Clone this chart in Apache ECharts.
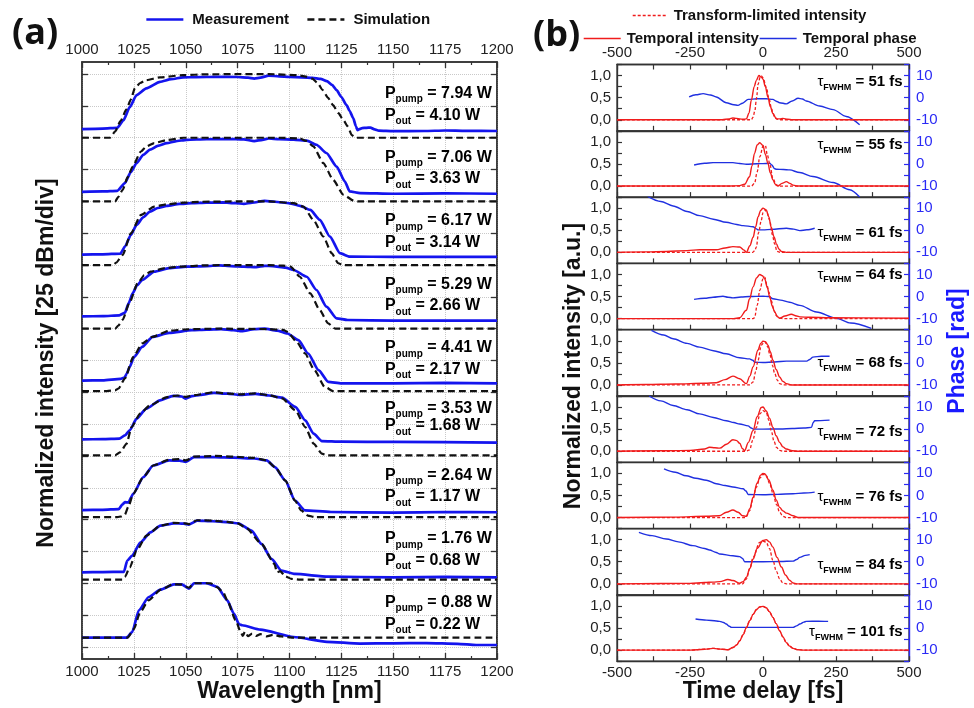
<!DOCTYPE html>
<html><head><meta charset="utf-8">
<script src="https://cdn.jsdelivr.net/npm/echarts@6.0.0/dist/echarts.min.js"></script>
<style>html,body{margin:0;padding:0;background:#fff}#c{width:974px;height:708px}</style>
</head><body><div id="c"></div>
<script>
// ---------------- Panel (a) data: spectra in dB relative to each trace's reference (25 dB per div) ----------------
const pumpPowers = ['7.94','7.06','6.17','5.29','4.41','3.53','2.64','1.76','0.88'];
const outPowers  = ['4.10','3.63','3.14','2.66','2.17','1.68','1.17','0.68','0.22'];
const traceOffsetDiv = [18,16,14,12,10,8,6,4,2];
const dbPerDiv = 25;
const divTicks = [0,1,2,3,4,5,6,7,8,9,10,11,12,13,14,15,16,17,18];

const meas794 = [[1000,-43.2],[1010,-42.8],[1017,-42.2],[1020,-36.2],[1023,-26],[1026.3,-16.5],[1031,-11.2],[1037.6,-6.1],[1043,-4],[1048.7,-2.6],[1055,-2.4],[1065,-2.2],[1075,-2.3],[1080,-2.8],[1083,-3.5],[1086,-2.8],[1090,-1.2],[1095,-1.8],[1100,-2.3],[1106,-2.5],[1111,-2.9],[1115,-3.8],[1118,-5.5],[1120.5,-8.5],[1122.7,-12.6],[1125,-18],[1127.5,-24.4],[1129,-29],[1130.7,-34.6],[1132,-41],[1132.8,-44],[1134,-43],[1135,-42.4],[1137,-42.2],[1139,-42],[1141,-43.5],[1143,-44.4],[1150,-44.8],[1165,-44.7],[1175,-44.3],[1185,-44.6],[1200,-44.7]];
const sim794 = [[1000,-50],[1013.5,-50],[1016,-45],[1018.5,-37],[1021.5,-27.5],[1023.5,-20],[1025.5,-11],[1028,-7],[1031,-4.7],[1037.6,-2.6],[1048.7,-0.8],[1060,-0.2],[1075,0],[1090,0],[1103.6,-0.8],[1108,-2],[1111,-3.6],[1113.5,-7],[1116,-12.6],[1118.5,-18.5],[1121,-24.4],[1123.5,-30.5],[1126,-36.2],[1128,-41],[1130,-48],[1132,-50],[1200,-50]];
const meas706 = [[1000,-42.5],[1010,-42.2],[1017,-41.7],[1020.7,-35.6],[1023.5,-27],[1026.3,-19.9],[1029.5,-13.5],[1032.8,-9.4],[1036.5,-6.4],[1040.9,-4.2],[1045,-2.8],[1050.5,-1.6],[1060,-1.2],[1070,-1.0],[1078,-1.3],[1083,-2.6],[1087,-1.6],[1090,-0.6],[1095,-1.2],[1102,-1.5],[1108.3,-2.3],[1113,-5.5],[1117.8,-12],[1122.7,-22.6],[1126.7,-34.4],[1129,-42.2],[1134,-43.5],[1150,-44],[1175,-43.7],[1200,-44]];
const sim706 = [[1000,-50],[1016,-50],[1017.5,-46.5],[1019.6,-40.9],[1022,-31],[1024.4,-22.6],[1028.4,-10.8],[1031,-6.8],[1034.8,-4.2],[1041,-1.8],[1049,0],[1075,0],[1095,0],[1105,-0.5],[1108,-2.5],[1111.5,-6.8],[1116.3,-19.9],[1121,-33],[1126,-44.8],[1131,-49.5],[1133,-50],[1200,-50]];
const meas617 = [[1000,-41.8],[1010,-41.6],[1018.5,-41],[1020.7,-35.5],[1023.5,-26.5],[1026.3,-18.5],[1029.5,-12.5],[1032.8,-8],[1036.5,-5.2],[1040.9,-3.5],[1047,-2],[1053,-1.4],[1060,-1],[1068,-0.8],[1074,-1.4],[1078,-1.9],[1082,-1.0],[1088,0.4],[1093,-0.3],[1100,-1.5],[1105,-3.5],[1110,-6.7],[1114.6,-14.5],[1119.5,-27.7],[1124.3,-40.7],[1129,-43.4],[1150,-43.6],[1175,-43.6],[1200,-43.6]];
const sim617 = [[1000,-50],[1015,-50],[1016.5,-48],[1019.6,-42],[1023.6,-25],[1028.4,-10.6],[1034.8,-4.1],[1041,-2.2],[1049,-1],[1058,-0.3],[1075,0],[1090,0],[1102,-1.4],[1106.7,-4],[1111.5,-14.5],[1116.3,-27.7],[1120.3,-40.7],[1123.5,-48.6],[1126,-50],[1200,-50]];
const meas529 = [[1000,-40.3],[1010,-40.2],[1018,-39.5],[1020.7,-37.5],[1022.5,-30],[1024.4,-22.3],[1026.5,-16],[1029,-11.8],[1034.8,-5.2],[1042,-2.5],[1050.5,-1.3],[1060,-0.8],[1066,-0.3],[1072,-0.8],[1078,-1.2],[1084,-1.6],[1088,-0.6],[1092,-0.8],[1098,-2],[1102,-3.9],[1108.3,-9.2],[1113,-19.6],[1117.8,-32.7],[1122.7,-41.9],[1128,-43.2],[1150,-43.6],[1200,-43.7]];
const sim529 = [[1000,-50],[1016,-50],[1017.5,-47.5],[1019.6,-43],[1022.8,-30],[1026.8,-14.4],[1030,-8],[1033,-5.2],[1040,-2.5],[1047,-1.3],[1060,-0.2],[1075,0],[1090,0],[1097,-0.5],[1100.5,-1.3],[1105,-9.2],[1110,-22.3],[1114.6,-35.4],[1118.6,-45.8],[1122,-50],[1200,-50]];
const meas441 = [[1000,-40.8],[1010,-40.6],[1018.5,-39.5],[1020.5,-38.5],[1021.5,-35.5],[1023,-30],[1025.1,-22.2],[1029,-14.3],[1034,-6.4],[1042,-3.3],[1053,-1.2],[1060,-0.8],[1067,-0.4],[1073,-1.2],[1077,-2],[1083,-0.3],[1088,0],[1094,-1.5],[1099,-3.8],[1104.3,-9],[1109,-19.5],[1114,-32.6],[1118.7,-41.8],[1125,-43],[1150,-43],[1175,-42.6],[1200,-43]];
const sim441 = [[1000,-49],[1012,-49],[1016,-48.4],[1017.6,-47],[1020.7,-39],[1024.7,-22.2],[1029,-11.6],[1034,-6.4],[1042,-1.6],[1050,-0.5],[1065,0],[1090,-0.3],[1097,-1],[1099,-2.5],[1103.5,-10.4],[1107.5,-19.5],[1112,-32.6],[1117,-45.7],[1121,-49],[1200,-49]];
const meas353 = [[1000,-37],[1010,-36.8],[1018,-36.4],[1020.7,-33.8],[1023,-29.9],[1026.3,-20.7],[1031,-12.8],[1037.6,-6.3],[1044,-2.8],[1048,-3.3],[1050,-5],[1053,-3],[1057,-2],[1063.6,-0.5],[1070,-1],[1076,-2],[1083.5,-1.2],[1090,-2.5],[1096.4,-4.2],[1102.8,-11.5],[1107.6,-22],[1111.6,-32.5],[1115.6,-38.3],[1125,-38.8],[1150,-39],[1200,-39.5]];
const sim353 = [[1000,-49.5],[1016,-49.5],[1018.5,-47],[1021.5,-40.3],[1023.9,-27.3],[1028,-16.8],[1032.8,-10.2],[1041,-3.7],[1046,-2.5],[1050,-3.5],[1054,-2.2],[1063.6,0],[1070,-0.8],[1076,-1.6],[1083.5,-0.8],[1090,-2.2],[1096.4,-4.8],[1102.8,-14],[1107.6,-27.3],[1111.6,-40.3],[1115.6,-48.2],[1118,-49.5],[1200,-49.5]];
const meas264 = [[1000,-42.5],[1010,-42.3],[1017.7,-41.7],[1019.5,-38],[1020.7,-36.3],[1022.3,-36.5],[1024.7,-29.7],[1029.5,-16.7],[1034.3,-7.5],[1042,-3.5],[1047,-3.7],[1050,-4.7],[1054,-0.9],[1064,-0.9],[1073,-1.3],[1083,-2],[1089,-3.5],[1093,-8.8],[1098,-19.3],[1102.6,-35],[1107.5,-42.8],[1120,-44],[1150,-44.5],[1175,-44],[1200,-44.2]];
const sim264 = [[1000,-48],[1017,-48],[1019,-47.5],[1020.7,-46],[1022.3,-40],[1024.7,-29.7],[1029.5,-16.7],[1034.3,-7.5],[1042,-3],[1047,-2.5],[1050,-3.5],[1054,-0.5],[1064,0],[1073,-0.5],[1083,-1.5],[1089,-3.5],[1093,-8.8],[1098,-19.3],[1102.6,-35],[1105.6,-42.8],[1108.8,-46.8],[1112,-48],[1200,-48]];
const meas176 = [[1000,-41.4],[1010,-41.2],[1020.2,-41],[1021.8,-32.2],[1024.2,-28.3],[1028.2,-17.8],[1033,-10],[1037.8,-4.7],[1044.3,-2.9],[1049,-3.2],[1051.5,-3.9],[1055.5,-0.8],[1063,-1.3],[1070,-2],[1075.3,-2.9],[1081.7,-8.6],[1086.5,-19.1],[1091.3,-30.9],[1096.1,-40],[1102.6,-42.7],[1118.6,-44.8],[1150,-45.4],[1175,-45],[1200,-45.4]];
const sim176 = [[1000,-47.2],[1019.5,-47.2],[1020.7,-45],[1023,-37.5],[1026.3,-24.4],[1031,-12.6],[1037.8,-4.7],[1044.3,-2.5],[1049,-2.8],[1051.5,-3.5],[1055.5,-0.5],[1063,-0.8],[1070,-1.8],[1075,-3],[1079,-6.3],[1086.5,-19],[1092.7,-34.8],[1094,-41.4],[1095.5,-40.5],[1098,-44.5],[1101,-46.6],[1105,-47.2],[1200,-47.2]];
const meas088 = [[1000,-42.7],[1021.5,-42.7],[1024.2,-38.3],[1027.4,-21.2],[1032.2,-10.8],[1037.8,-5],[1044.3,-0.8],[1048,-0.8],[1051.5,-4.2],[1054,0],[1060,0],[1065.2,-2.9],[1070,-13.4],[1073.2,-23.8],[1075.7,-32.2],[1077.2,-33],[1086,-36.4],[1102,-42.2],[1118,-46],[1134,-47.4],[1150,-47.2],[1166,-47],[1181,-47.6],[1190,-48.5],[1200,-48.5]];
const sim088 = [[1000,-42.7],[1022,-42.7],[1025,-36],[1028,-23],[1032,-13.4],[1038,-5],[1044,-0.8],[1048,-1],[1051.5,-3.5],[1054,0],[1062,0],[1065,-3],[1068,-7],[1070,-13.4],[1074,-29],[1076.5,-38.3],[1077.5,-41.4],[1078.5,-38],[1080,-41.6],[1082,-39.5],[1084,-41.4],[1086,-40],[1089,-41.7],[1092,-40.5],[1096,-41.8],[1101,-42.7],[1200,-42.7]];
const measTraces = [meas794,meas706,meas617,meas529,meas441,meas353,meas264,meas176,meas088];
const simTraces  = [sim794,sim706,sim617,sim529,sim441,sim353,sim264,sim176,sim088];

// ---------------- Panel (b) data: [time fs, value] ----------------
const tauFwhm = ['51','55','61','64','68','72','76','84','101'];
const int51 = [[-500,0],[-140,0],[-115,0.02],[-103,0.04],[-90,0.03],[-70,0.01],[-57,0.02],[-48,0.15],[-40,0.44],[-30,0.75],[-23,0.89],[-14,1.0],[-5,0.96],[0,0.92],[8,0.75],[17,0.51],[25,0.3],[34,0.14],[46,0.02],[57,0.02],[68,0.03],[85,0.01],[100,0],[500,0]];
const tl51 = [[-500,0],[-40,0],[-34,0.06],[-28,0.2],[-22,0.5],[-17,0.8],[-10,0.96],[-6,0.99],[0,0.95],[11,0.74],[20,0.5],[28,0.29],[34,0.14],[40,0.06],[50,0.01],[60,0],[500,0]];
const ph51 = [[-253,0.3],[-230,1.3],[-205,1.8],[-180,1.2],[-160,0.3],[-126,-2.3],[-100,-3.2],[-86,-3.5],[-70,-2.5],[-51,-0.8],[-20,-0.5],[11,-0.5],[34,-0.8],[45,-1.6],[57,-2.3],[80,-2.8],[100,-1.5],[120,-0.3],[135,-0.6],[148,-1.5],[194,-3.8],[240,-5.4],[285,-8.5],[331,-12.3]];
const int55 = [[-500,0],[-120,0],[-80,0.01],[-63,0.04],[-46,0.21],[-38,0.45],[-29,0.74],[-20,0.93],[-11,0.98],[0,0.92],[8,0.72],[17,0.51],[25,0.3],[34,0.14],[42,0.04],[51,0],[65,0.06],[80,0.1],[92,0.06],[103,0.02],[120,0],[500,0]];
const tl55 = [[-500,0],[-40,0],[-29,0.06],[-20,0.32],[-11,0.66],[0,0.9],[8,0.92],[15,0.7],[23,0.51],[34,0.17],[46,0.02],[60,0],[500,0]];
const ph55 = [[-236,-0.45],[-200,0.3],[-171,0.6],[-140,0.6],[-103,0.6],[-80,0.2],[-57,-0.15],[-20,0.1],[0,0.15],[23,0.3],[30,-0.5],[40,-2.2],[46,-2.4],[70,-2.5],[91,-2.7],[126,-3.9],[171,-5.7],[240,-8.4],[297,-11.7],[331,-15]];
const int61 = [[-500,0],[-400,0.01],[-331,0.02],[-260,0.04],[-217,0.06],[-160,0.06],[-130,0.1],[-103,0.13],[-80,0.12],[-65,0.05],[-57,0],[-45,0.15],[-34,0.34],[-25,0.58],[-17,0.8],[-8,0.95],[0,1.0],[11,0.96],[20,0.8],[28,0.57],[38,0.35],[46,0.19],[55,0.07],[63,0.02],[80,0],[500,0]];
const tl61 = [[-500,0],[-35,0],[-28,0.04],[-23,0.12],[-15,0.45],[-6,0.72],[0,0.9],[6,0.96],[15,0.88],[23,0.72],[32,0.4],[40,0.19],[48,0.02],[60,0],[500,0]];
const ph61 = [[-395,15.3],[-350,13],[-308,11],[-260,8.5],[-217,6.6],[-170,5],[-126,3.6],[-90,2.6],[-68,2.1],[-34,1.6],[-22,0.6],[-17,0.15],[0,0.15],[30,0.4],[80,0.9],[105,0.5],[126,-0.15],[150,0.2],[177,0.9]];
const int64 = [[-500,0],[-100,0],[-80,0.02],[-57,0.19],[-46,0.45],[-34,0.72],[-22,0.92],[-11,1.0],[-2,0.97],[6,0.9],[15,0.7],[23,0.49],[32,0.28],[40,0.15],[50,0.04],[57,0.01],[75,0.06],[97,0.1],[115,0.06],[126,0.04],[160,0.03],[230,0.02],[500,0.01]];
const tl64 = [[-500,0],[-35,0],[-29,0.02],[-20,0.3],[-11,0.64],[0,0.9],[6,0.94],[14,0.75],[20,0.6],[28,0.41],[38,0.18],[46,0.07],[57,0.01],[70,0],[500,0]];
const ph64 = [[-236,-1.3],[-200,-0.8],[-171,-0.3],[-137,0.15],[-120,-0.3],[-103,-0.6],[-75,-0.2],[-46,0],[0,0.15],[20,0],[34,-1],[60,-1.6],[91,-2.6],[126,-4],[183,-7],[251,-9.8],[300,-12],[371,-14.4]];
const int68 = [[-500,0],[-400,0.01],[-300,0.02],[-200,0.04],[-160,0.05],[-130,0.12],[-103,0.2],[-80,0.14],[-57,0.03],[-45,0.2],[-34,0.41],[-17,0.79],[-8,0.94],[0,0.99],[8,0.98],[17,0.9],[25,0.75],[34,0.56],[45,0.35],[57,0.18],[68,0.08],[80,0.03],[100,0],[500,0]];
const tl68 = [[-500,0],[-45,0],[-34,0.07],[-25,0.3],[-17,0.56],[-6,0.9],[6,0.98],[15,0.88],[23,0.71],[32,0.45],[40,0.26],[50,0.1],[57,0.03],[70,0],[500,0]];
const ph68 = [[-382,14.7],[-340,12.6],[-308,10.9],[-260,8.8],[-217,7.1],[-170,5.5],[-126,4.1],[-80,2.3],[-46,1.8],[-35,1.2],[-29,0.3],[0,0.15],[40,0.4],[80,0.8],[126,0.8],[150,0.8],[160,1.5],[171,2.6],[200,3],[228,3]];
const int72 = [[-500,0],[-350,0.01],[-250,0.02],[-200,0.05],[-183,0.09],[-165,0.08],[-148,0.07],[-125,0.16],[-103,0.26],[-90,0.24],[-80,0.18],[-70,0.06],[-63,0.015],[-50,0.2],[-34,0.47],[-20,0.78],[-6,0.99],[0,1.0],[11,0.91],[22,0.75],[34,0.54],[45,0.35],[57,0.2],[68,0.1],[80,0.05],[100,0.01],[120,0],[500,0]];
const tl72 = [[-500,0],[-60,0],[-46,0.03],[-35,0.25],[-23,0.54],[-10,0.85],[0,0.92],[11,0.88],[20,0.7],[28,0.47],[38,0.22],[46,0.09],[57,0.02],[70,0],[500,0]];
const ph72 = [[-390,15],[-350,12.8],[-308,10.7],[-260,8.8],[-217,6.9],[-170,5.3],[-126,3.8],[-100,3.0],[-80,2.3],[-51,1.5],[-40,0.5],[-34,0],[0,0],[60,0.1],[100,0.3],[140,0.5],[166,0.8],[172,3],[177,3.8],[228,4.1]];
const int76 = [[-500,0],[-300,0.01],[-194,0.03],[-150,0.04],[-125,0.12],[-103,0.17],[-85,0.12],[-70,0.04],[-57,0.03],[-45,0.2],[-34,0.46],[-20,0.78],[-8,0.96],[0,1.0],[6,0.99],[20,0.85],[34,0.62],[45,0.4],[57,0.23],[68,0.15],[80,0.1],[103,0.04],[120,0],[500,0]];
const tl76 = [[-500,0],[-60,0],[-46,0.15],[-35,0.4],[-23,0.69],[-10,0.9],[0,0.98],[11,0.95],[23,0.77],[34,0.55],[46,0.3],[57,0.12],[68,0.03],[80,0],[500,0]];
const ph76 = [[-339,12],[-300,10.5],[-263,8.9],[-230,7.8],[-194,6.9],[-160,5.3],[-130,4.5],[-103,3.8],[-68,3.0],[-58,2.0],[-51,0.45],[0,0.3],[50,0.5],[103,0.8],[140,1.1],[177,1.5]];
const int84 = [[-500,0],[-250,0.01],[-200,0.03],[-171,0.04],[-148,0.05],[-120,0.1],[-103,0.075],[-80,0.015],[-68,0.05],[-57,0.15],[-45,0.35],[-34,0.56],[-20,0.8],[0,0.98],[11,1.0],[22,0.95],[34,0.83],[48,0.6],[63,0.38],[77,0.2],[91,0.08],[103,0.02],[115,0],[500,0]];
const tl84 = [[-500,0],[-70,0],[-57,0.11],[-45,0.35],[-34,0.6],[-11,0.94],[0,0.97],[11,0.94],[22,0.8],[34,0.53],[46,0.28],[57,0.11],[68,0.02],[80,0],[500,0]];
const ph84 = [[-425,13.3],[-380,11.8],[-331,10.3],[-290,9],[-240,7.3],[-200,6],[-183,5.3],[-160,4.2],[-148,3.5],[-103,2.7],[-80,2.3],[-70,1.5],[-63,0],[0,0],[60,0.1],[103,0.3],[115,1],[126,2],[145,2.9],[160,3.2]];
const int101 = [[-500,0],[-250,0],[-200,0.02],[-171,0.04],[-140,0.02],[-120,0.01],[-103,0.06],[-90,0.12],[-80,0.21],[-68,0.35],[-57,0.51],[-45,0.67],[-34,0.81],[-22,0.92],[-11,0.98],[0,0.99],[11,0.96],[22,0.87],[34,0.74],[45,0.6],[57,0.44],[68,0.3],[80,0.17],[91,0.09],[103,0.04],[120,0.01],[140,0],[500,0]];
const tl101 = [[-500,0],[-250,0],[-200,0.02],[-171,0.04],[-140,0.02],[-120,0.01],[-103,0.06],[-90,0.12],[-80,0.21],[-68,0.35],[-57,0.51],[-45,0.67],[-34,0.81],[-22,0.92],[-11,0.98],[0,0.99],[11,0.96],[22,0.87],[34,0.74],[45,0.6],[57,0.44],[68,0.3],[80,0.17],[91,0.09],[103,0.04],[120,0.01],[140,0],[500,0]];
const ph101 = [[-231,4.1],[-194,3.6],[-160,3.2],[-148,3],[-135,2.5],[-126,1.8],[-115,0.8],[-108,0.3],[0,0.3],[103,0.3],[115,1],[126,1.8],[140,2.7],[148,3],[190,3.1],[223,3]];
const intensities = [int51,int55,int61,int64,int68,int72,int76,int84,int101];
const tlIntensities = [tl51,tl55,tl61,tl64,tl68,tl72,tl76,tl84,tl101];
const phases = [ph51,ph55,ph61,ph64,ph68,ph72,ph76,ph84,ph101];
const intensityLabels = {0:'0,0', 0.5:'0,5', 1:'1,0'};
const phaseLabels = {'-10':'-10', '0':'0', '10':'10'};

// ---------------- styling / layout ----------------
const FONT = "'Liberation Sans', Arial, Helvetica, sans-serif";
const BLUE = '#1414ee', BLUE2 = '#2030e0', RED = '#f01c1c', AX = '#333333', GRIDC = '#c9c9c9';
const A = {left:82, right:497, top:62, bottom:659};
const B = {left:617, right:909, top:64.5, h:66.3};
const tauLevel = [0.86,0.93,0.44,1.0,0.5,0.44,0.47,0.43,0.41];
const pRowDiv = [[0.61,1.29],[0.61,1.29],[0.61,1.29],[0.61,1.29],[0.61,1.29],[0.51,1.06],[0.61,1.29],[0.61,1.29],[0.61,1.29]];

const chart = echarts.init(document.getElementById('c'), null, {renderer:'canvas'});
const grids = [{left:A.left, top:A.top, width:A.right-A.left, height:A.bottom-A.top, show:true, borderColor:AX, borderWidth:1.5, containLabel:false}];
for (let j=0;j<9;j++) grids.push({left:B.left, top:B.top+B.h*j, width:B.right-B.left, height:B.h, show:true, borderColor:AX, borderWidth:1.3, containLabel:false});

const lblStyle = {fontFamily:FONT, fontSize:15, color:'#222'};
const plain = v => String(v);
const xAxes = [
  {gridIndex:0, type:'value', position:'bottom', min:1000, max:1200, interval:25,
   axisLine:{show:true, onZero:false, lineStyle:{color:AX,width:1.5}}, axisTick:{inside:true,length:6,lineStyle:{color:AX,width:1.3}},
   minorTick:{show:true, splitNumber:2, length:3, lineStyle:{color:AX,width:1.2}},
   axisLabel:Object.assign({margin:5, formatter:plain}, lblStyle), splitLine:{show:true, lineStyle:{color:GRIDC, type:'dotted', width:1}}},
  {gridIndex:0, type:'value', position:'top', min:1000, max:1200, interval:25,
   axisLine:{show:true, onZero:false, lineStyle:{color:AX,width:1.5}}, axisTick:{inside:true,length:6,lineStyle:{color:AX,width:1.3}},
   minorTick:{show:true, splitNumber:2, length:3, lineStyle:{color:AX,width:1.2}},
   axisLabel:Object.assign({margin:5, formatter:plain}, lblStyle), splitLine:{show:false}}
];
const yAxes = [
  {gridIndex:0, type:'value', position:'left', min:-0.38, max:18.38,
   axisLine:{show:true, onZero:false, lineStyle:{color:AX,width:1.5}}, axisTick:{inside:true,length:6,customValues:divTicks,lineStyle:{color:AX,width:1.3}},
   axisLabel:{show:false, customValues:divTicks}, splitLine:{show:true, lineStyle:{color:GRIDC,type:'dotted',width:1}}},
  {gridIndex:0, type:'value', position:'right', min:-0.38, max:18.38,
   axisLine:{show:true, onZero:false, lineStyle:{color:AX,width:1.5}}, axisTick:{inside:true,length:6,customValues:divTicks,lineStyle:{color:AX,width:1.3}},
   axisLabel:{show:false, customValues:divTicks}, splitLine:{show:false}}
];
for (let j=0;j<9;j++) {
  const g = j+1;
  xAxes.push({gridIndex:g, type:'value', position:'bottom', min:-500, max:500, interval:250,
    axisLine:{show:true, onZero:false, lineStyle:{color:AX,width:1.3}}, axisTick:{inside:true,length:5,lineStyle:{color:AX,width:1.2}},
    minorTick:{show:true, splitNumber:2, length:5, lineStyle:{color:AX,width:1.2}},
    axisLabel:Object.assign({show:j===8, margin:4, formatter:plain}, lblStyle), splitLine:{show:false}});
  yAxes.push({gridIndex:g, type:'value', position:'left', min:-0.25, max:1.25, interval:0.25,
    axisLine:{show:true, onZero:false, lineStyle:{color:AX,width:1.3}}, axisTick:{inside:true,length:5,lineStyle:{color:AX,width:1.2}},
    axisLabel:Object.assign({margin:6, formatter:v=>intensityLabels[Math.round(v*100)/100]||''}, lblStyle), splitLine:{show:false}});
  yAxes.push({gridIndex:g, type:'value', position:'right', min:-15, max:15, interval:5,
    axisLine:{show:true, onZero:false, lineStyle:{color:'#2a2af5',width:1.4}}, axisTick:{inside:true,length:5,lineStyle:{color:'#2a2af5',width:1.2}},
    axisLabel:{margin:7, fontFamily:FONT, fontSize:15, color:'#2a2af5', formatter:v=>phaseLabels[String(v)]||''}, splitLine:{show:false}});
}
xAxes.push({gridIndex:1, type:'value', position:'top', min:-500, max:500, interval:250,
  axisLine:{show:true, onZero:false, lineStyle:{color:AX,width:1.3}}, axisTick:{inside:true,length:5,lineStyle:{color:AX,width:1.2}},
  minorTick:{show:true, splitNumber:2, length:5, lineStyle:{color:AX,width:1.2}},
  axisLabel:Object.assign({margin:4, formatter:plain}, lblStyle), splitLine:{show:false}});

const series = [];
measTraces.forEach((d,k)=>{
  series.push({type:'line', name:'Measurement', xAxisIndex:0, yAxisIndex:0, symbol:'none', showSymbol:false,
    smooth:0.2, smoothMonotone:'x', z:3, animation:false,
    data:d.map(p=>[p[0], traceOffsetDiv[k]+p[1]/dbPerDiv]),
    lineStyle:{color:BLUE, width:2.7}, itemStyle:{color:BLUE}});
});
simTraces.forEach((d,k)=>{
  series.push({type:'line', name:'Simulation', xAxisIndex:0, yAxisIndex:0, symbol:'none', showSymbol:false,
    smooth:0.2, smoothMonotone:'x', z:4, animation:false,
    data:d.map(p=>[p[0], traceOffsetDiv[k]+p[1]/dbPerDiv]),
    lineStyle:{color:'#111', width:2.2, type:[7,4]}, itemStyle:{color:'#111'}});
});
for (let j=0;j<9;j++) {
  series.push({type:'line', name:'Temporal phase', xAxisIndex:2+j, yAxisIndex:3+2*j, symbol:'none', showSymbol:false,
    smooth:0.3, smoothMonotone:'x', animation:false, data:phases[j], lineStyle:{color:BLUE2,width:1.4}, itemStyle:{color:BLUE2}});
  series.push({type:'line', name:'Transform-limited intensity', xAxisIndex:2+j, yAxisIndex:2+2*j, symbol:'none', showSymbol:false,
    smooth:0.35, smoothMonotone:'x', animation:false, data:tlIntensities[j], lineStyle:{color:RED,width:1.3,type:[3,2]}, itemStyle:{color:RED}});
  series.push({type:'line', name:'Temporal intensity', xAxisIndex:2+j, yAxisIndex:2+2*j, symbol:'none', showSymbol:false,
    smooth:0.35, smoothMonotone:'x', animation:false, data:intensities[j], lineStyle:{color:RED,width:1.4}, itemStyle:{color:RED}});
}

const legText = {fontFamily:FONT, fontSize:15, fontWeight:'bold', color:'#111'};
const option = {
  animation:false,
  backgroundColor:'#fff',
  grid:grids, xAxis:xAxes, yAxis:yAxes, series:series,
  legend:[
    {data:['Measurement','Simulation'], left:140, top:7, itemWidth:37, itemHeight:14, itemGap:17, selectedMode:false,
     lineStyle:{width:2.7}, itemStyle:{opacity:0}, textStyle:Object.assign({padding:[0,0,0,4]}, legText)},
    {data:['Transform-limited intensity'], left:627, top:3, itemWidth:33, itemHeight:14, selectedMode:false,
     lineStyle:{width:1.4}, itemStyle:{opacity:0}, textStyle:Object.assign({padding:[0,0,0,3]}, legText)},
    {data:['Temporal intensity','Temporal phase'], left:578, top:26, itemWidth:37, itemHeight:14, itemGap:0, selectedMode:false,
     lineStyle:{width:1.4}, itemStyle:{opacity:0}, textStyle:Object.assign({padding:[0,0,0,1]}, legText)}
  ]
};
chart.setOption(option);

// text elements positioned through the chart's own scales
const gfx = [];
const bold = {fontFamily:FONT, fontWeight:'bold', fill:'#111'};
gfx.push({type:'text', left:12, top:16, style:{text:'(a)', font:"bold 36px 'Open Sans', 'Noto Sans', sans-serif", fill:'#111'}});
gfx.push({type:'text', left:533, top:18, style:{text:'(b)', font:"bold 36px 'Open Sans', 'Noto Sans', sans-serif", fill:'#111'}});
gfx.push({type:'text', x:(A.left+A.right)/2, y:692, style:Object.assign({text:'Wavelength [nm]', fontSize:23, align:'center', verticalAlign:'middle'}, bold)});
gfx.push({type:'text', x:(B.left+B.right)/2, y:692, style:Object.assign({text:'Time delay [fs]', fontSize:23, align:'center', verticalAlign:'middle'}, bold)});
gfx.push({type:'text', x:47, y:363, rotation:Math.PI/2, style:Object.assign({text:'Normalized intensity [25 dBm/div]', fontSize:23, align:'center', verticalAlign:'middle'}, bold)});
gfx.push({type:'text', x:574, y:366, rotation:Math.PI/2, style:Object.assign({text:'Normalized intensity [a.u.]', fontSize:23, align:'center', verticalAlign:'middle'}, bold)});
gfx.push({type:'text', x:958, y:351, rotation:Math.PI/2, style:{text:'Phase [rad]', fontFamily:FONT, fontWeight:'bold', fontSize:23, fill:'#1a1aff', align:'center', verticalAlign:'middle'}});

const richP = {
  b:{fontFamily:FONT, fontSize:16, fontWeight:'bold', color:'#111', lineHeight:22, verticalAlign:'middle'},
  s:{fontFamily:FONT, fontSize:10, fontWeight:'bold', color:'#111', lineHeight:12, verticalAlign:'bottom'}
};
for (let k=0;k<9;k++) {
  const p1 = chart.convertToPixel({gridIndex:0}, [1146, traceOffsetDiv[k]-pRowDiv[k][0]]);
  const p2 = chart.convertToPixel({gridIndex:0}, [1146, traceOffsetDiv[k]-pRowDiv[k][1]]);
  gfx.push({type:'text', x:p1[0], y:p1[1], z:10, style:{text:'{b|P}{s|pump}{b| = '+pumpPowers[k]+' W}', rich:richP, verticalAlign:'middle', align:'left'}});
  gfx.push({type:'text', x:p2[0], y:p2[1], z:10, style:{text:'{b|P}{s|out}{b| = '+outPowers[k]+' W}', rich:richP, verticalAlign:'middle', align:'left'}});
}
const richT = {
  t:{fontFamily:FONT, fontSize:15, color:'#111', lineHeight:20, verticalAlign:'middle'},
  s:{fontFamily:FONT, fontSize:9, fontWeight:'bold', color:'#111', lineHeight:11, verticalAlign:'bottom'},
  b:{fontFamily:FONT, fontSize:15, fontWeight:'bold', color:'#111', lineHeight:20, verticalAlign:'middle'}
};
for (let j=0;j<9;j++) {
  const p = chart.convertToPixel({gridIndex:j+1}, [478, tauLevel[j]]);
  gfx.push({type:'text', x:p[0], y:p[1], z:10, style:{text:'{t|τ}{s|FWHM}{b| = '+tauFwhm[j]+' fs}', rich:richT, verticalAlign:'middle', align:'right'}});
}
chart.setOption({graphic:gfx});
</script></body></html>
